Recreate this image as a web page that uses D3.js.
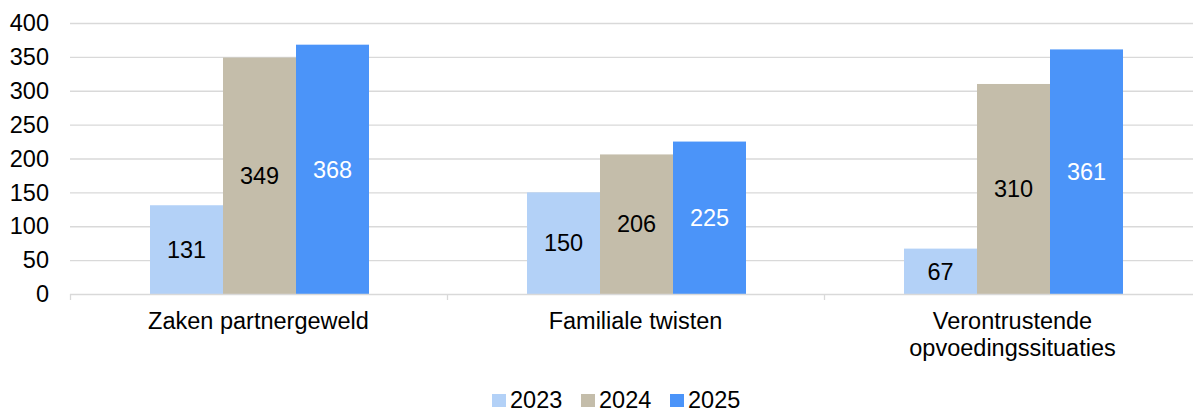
<!DOCTYPE html>
<html>
<head>
<meta charset="utf-8">
<script src="https://cdn.jsdelivr.net/npm/d3@7"></script>
<style>
  body { margin: 0; background: #fff; }
  svg { display: block; font-family: Arial, "Liberation Sans", sans-serif; }
</style>
</head>
<body>
<svg width="1193" height="410"></svg>
<script>
var categories = [["Zaken partnergeweld"], ["Familiale twisten"], ["Verontrustende", "opvoedingssituaties"]];
var years = ["2023", "2024", "2025"];
var v2023 = [131, 150, 67];
var v2024 = [349, 206, 310];
var v2025 = [368, 225, 361];
var yTicks = [0, 50, 100, 150, 200, 250, 300, 350, 400];

var colors = ["#b3d1f7", "#c4bdaa", "#4b94f9"];
var labelColors = ["#000", "#000", "#fff"];
var series = [v2023, v2024, v2025];
var fs = "23.5px";

var svg = d3.select("svg");
var plotL = 70, plotR = 1201, plotT = 23, plotB = 294;

var x = d3.scaleBand().domain(d3.range(categories.length)).range([plotL, plotR]);
var inner = d3.scaleBand().domain(d3.range(years.length)).range([0, 219]);
var y = d3.scaleLinear().domain([0, 400]).range([plotB, plotT]);

// gridlines
svg.append("g").selectAll("line")
  .data(yTicks.filter(function(d) { return d > 0; }))
  .enter().append("line")
  .attr("x1", plotL).attr("x2", plotR)
  .attr("y1", function(d) { return y(d) + 0.5; })
  .attr("y2", function(d) { return y(d) + 0.5; })
  .attr("stroke", "#d9d9d9").attr("stroke-width", 1.3);

// y labels
svg.append("g").selectAll("text")
  .data(yTicks)
  .enter().append("text")
  .attr("x", 49)
  .attr("y", function(d) { return y(d); })
  .attr("dy", "0.35em")
  .attr("text-anchor", "end")
  .style("font-size", fs)
  .text(function(d) { return d; });

// bars
var groups = svg.append("g").selectAll("g")
  .data(categories)
  .enter().append("g")
  .attr("transform", function(d, i) { return "translate(" + (x(i) + (x.bandwidth() - 219) / 2 + 1) + ",0)"; });

groups.each(function(c, i) {
  var g = d3.select(this);
  series.forEach(function(s, k) {
    g.append("rect")
      .attr("x", inner(k))
      .attr("width", inner.bandwidth())
      .attr("y", y(s[i]))
      .attr("height", plotB - y(s[i]))
      .attr("fill", colors[k]);
    g.append("text")
      .attr("x", inner(k) + inner.bandwidth() / 2)
      .attr("y", (y(s[i]) + plotB) / 2)
      .attr("dy", "0.35em")
      .attr("text-anchor", "middle")
      .style("font-size", fs)
      .attr("fill", labelColors[k])
      .text(s[i]);
  });
});

// x axis line and ticks
svg.append("line")
  .attr("x1", plotL).attr("x2", plotR)
  .attr("y1", plotB + 0.5).attr("y2", plotB + 0.5)
  .attr("stroke", "#d9d9d9").attr("stroke-width", 1.3);
svg.append("g").selectAll("line")
  .data(d3.range(categories.length + 1))
  .enter().append("line")
  .attr("x1", function(i) { return plotL + i * x.step() + 0.5; })
  .attr("x2", function(i) { return plotL + i * x.step() + 0.5; })
  .attr("y1", plotB).attr("y2", plotB + 6)
  .attr("stroke", "#d9d9d9").attr("stroke-width", 1.3);

// category labels
svg.append("g").selectAll("text")
  .data(categories)
  .enter().append("text")
  .attr("x", function(d, i) { return x(i) + x.bandwidth() / 2; })
  .attr("y", 329)
  .attr("text-anchor", "middle")
  .style("font-size", fs)
  .each(function(lines) {
    var t = d3.select(this);
    lines.forEach(function(l, j) {
      t.append("tspan").attr("x", t.attr("x")).attr("dy", j === 0 ? 0 : 27).text(l);
    });
  });

// legend
var legendX = [492, 581, 670];
var legend = svg.append("g").selectAll("g")
  .data(years)
  .enter().append("g")
  .attr("transform", function(d, i) { return "translate(" + legendX[i] + ",394)"; });
legend.append("rect").attr("width", 14).attr("height", 13).attr("fill", function(d, i) { return colors[i]; });
legend.append("text")
  .attr("x", 18).attr("y", 6).attr("dy", "0.35em")
  .style("font-size", fs)
  .text(function(d) { return d; });
</script>
</body>
</html>
